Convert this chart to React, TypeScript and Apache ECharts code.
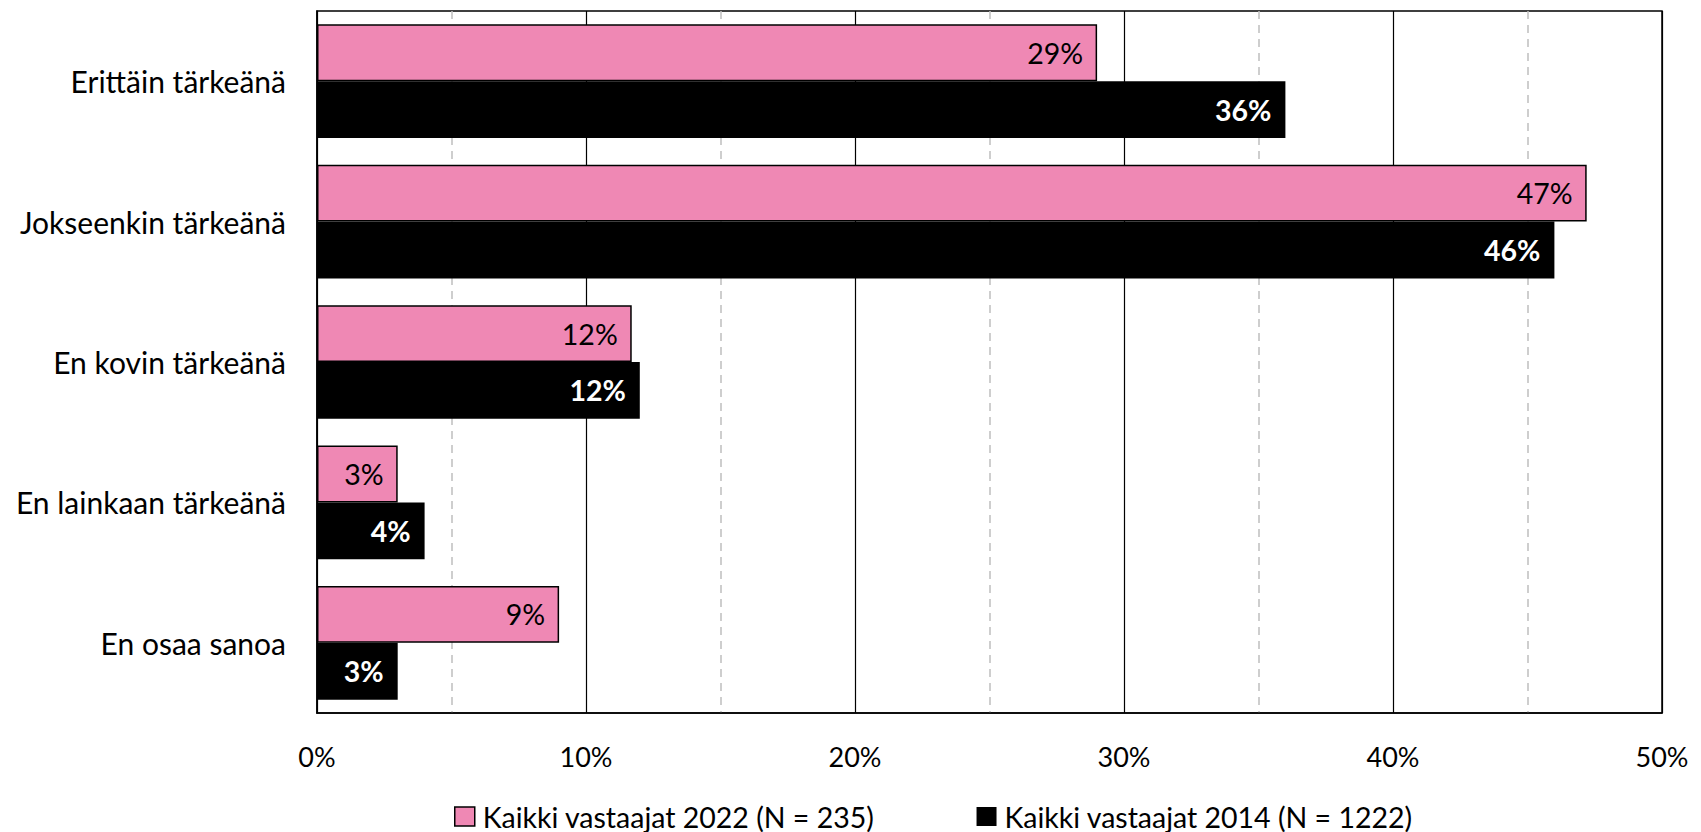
import React, { useEffect, useRef } from "react";
import * as echarts from "echarts";

const categories = [
  "Erittäin tärkeänä",
  "Jokseenkin tärkeänä",
  "En kovin tärkeänä",
  "En lainkaan tärkeänä",
  "En osaa sanoa",
];
const series2022 = [29, 47.2, 11.7, 3, 9];
const series2014 = [36, 46, 12, 4, 3];
const seriesNames = ["Kaikki vastaajat 2022 (N = 235)", "Kaikki vastaajat 2014 (N = 1222)"];
const xTicks = [0, 10, 20, 30, 40, 50];

const FONT = "Lato";

export default function App() {
  const ref = useRef<HTMLDivElement>(null);
  useEffect(() => {
    if (!ref.current) return;
    const chart = echarts.init(ref.current, null, { renderer: "svg" });
    chart.setOption({
      animation: false,
      textStyle: { fontFamily: FONT, color: "#000" },
      grid: {
        left: 309,
        right: 31,
        top: 3,
        bottom: 119,
        show: true,
        borderColor: "#000",
        borderWidth: 1.5,
        backgroundColor: "transparent",
      },
      legend: {
        top: 789,
        left: 441,
        itemGap: 102,
        itemWidth: 20,
        itemHeight: 19,
        icon: "rect",
        textStyle: { fontFamily: FONT, fontSize: 28.5, color: "#000", padding: [0, 0, 0, 3] },
        data: [
          { name: seriesNames[0], itemStyle: { color: "#EF88B4", borderColor: "#000", borderWidth: 1.5 } },
          { name: seriesNames[1], itemStyle: { color: "#000" } },
        ],
      },
      xAxis: {
        type: "value",
        min: xTicks[0],
        max: xTicks[xTicks.length - 1],
        interval: 10,
        axisLine: { show: true, lineStyle: { color: "#000", width: 1.5 } },
        axisTick: { show: false },
        axisLabel: {
          formatter: (v: number) => `${v}%`,
          fontFamily: FONT,
          fontSize: 27,
          color: "#000",
          margin: 30,
        },
        splitLine: { show: true, lineStyle: { color: "#000", width: 1.2 } },
        minorTick: { show: false, splitNumber: 2 },
        minorSplitLine: { show: true, lineStyle: { color: "#BFBFBF", width: 1.5, type: [8, 6] } },
      },
      yAxis: {
        type: "category",
        inverse: true,
        data: categories,
        axisLine: { show: true, lineStyle: { color: "#000", width: 1.5 } },
        axisTick: { show: false },
        axisLabel: { fontFamily: FONT, fontSize: 30, color: "#000", margin: 31 },
        splitLine: { show: false },
      },
      series: [
        {
          name: seriesNames[0],
          type: "bar",
          data: series2022,
          barGap: "0%",
          barCategoryGap: "19%",
          itemStyle: { color: "#EF88B4", borderColor: "#000", borderWidth: 1.5 },
          label: {
            show: true,
            position: "insideRight",
            distance: 14,
            formatter: (p: any) => `${Math.round(p.value)}%`,
            fontFamily: FONT,
            fontSize: 28.5,
            color: "#000",
          },
        },
        {
          name: seriesNames[1],
          type: "bar",
          data: series2014,
          barGap: "0%",
          barCategoryGap: "19%",
          itemStyle: { color: "#000" },
          label: {
            show: true,
            position: "insideRight",
            distance: 14,
            formatter: (p: any) => `${Math.round(p.value)}%`,
            fontFamily: FONT,
            fontSize: 28.5,
            fontWeight: "bold",
            color: "#fff",
          },
        },
      ],
    });
    return () => chart.dispose();
  }, []);
  return <div ref={ref} style={{ width: 1685, height: 824 }} />;
}
